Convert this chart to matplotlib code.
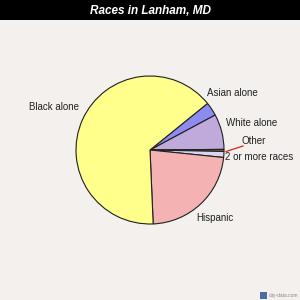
import matplotlib.pyplot as plt

# slices, clockwise from the Black/Asian boundary
labels = ['Asian alone', 'White alone', 'Other', '2 or more races', 'Hispanic', 'Black alone']
shares = [3.0, 7.7, 0.45, 1.3, 22.7, 64.85]
colors = ['#8c8cf0', '#c0aadc', '#8b6d48', '#dcd4f4', '#f5b2b2', '#ffff8c']

# label positions in pixels (x, y from top)
label_pos = [(232, 93), (252, 123), (254, 141), (259, 157), (215, 218), (54, 107)]

fig = plt.figure(figsize=(3, 3), dpi=100)
fig.patch.set_facecolor('#f3f0ed')
ax = fig.add_axes([0, 0, 1, 1])
ax.set_xlim(0, 300)
ax.set_ylim(0, 300)
ax.axis('off')

ax.pie(shares, colors=colors, startangle=39, counterclock=False,
       center=(150, 150), radius=74,
       wedgeprops=dict(edgecolor='#202020', linewidth=0.8))
ax.set_xlim(0, 300)
ax.set_ylim(0, 300)
ax.set_aspect('auto')

for lab, (x, y) in zip(labels, label_pos):
    ax.text(x, 300 - y, lab, ha='center', va='center', fontsize=7,
            family='Liberation Sans', color='#222222')

# leader line for "Other"
ax.plot([226, 243], [300 - 151.5, 300 - 146], color='#e02020', lw=0.9)

# title bar
ax.add_patch(plt.Rectangle((0, 280), 300, 20, facecolor='black', edgecolor='none'))
ax.text(150, 289, 'Races in Lanham, MD', ha='center', va='center', color='white',
        fontsize=8.5, fontweight='bold', style='italic', family='Liberation Sans')

# watermark
ax.add_patch(plt.Rectangle((260, 1), 7, 7, facecolor='#4a6aa8', edgecolor='none'))
ax.text(269, 4.5, 'city-data.com', ha='left', va='center', fontsize=3.5,
        color='#888888', family='Liberation Sans')

fig.savefig('out.png', dpi=100, facecolor=fig.get_facecolor())
